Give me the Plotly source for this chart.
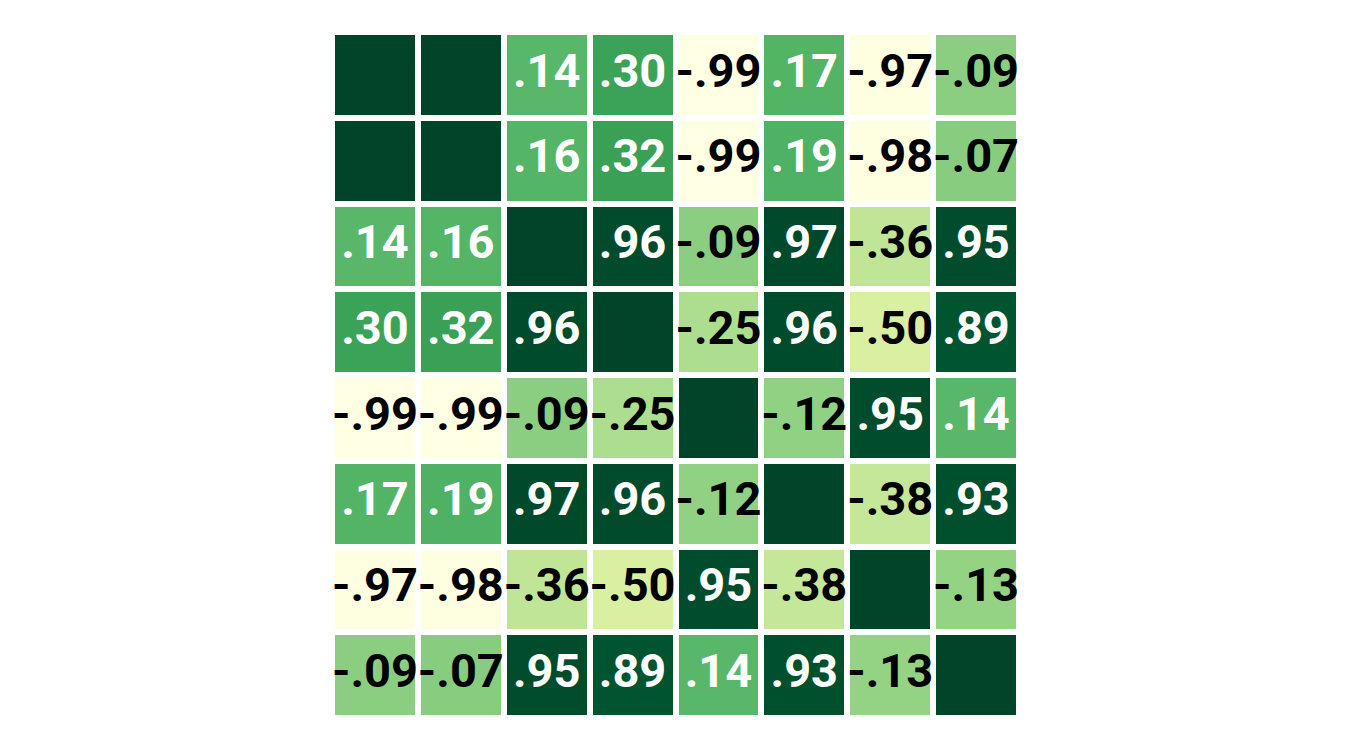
import plotly.graph_objects as go

names = ["v0", "v1", "v2", "v3", "v4", "v5", "v6", "v7"]
corr = [
    [1.00, 0.999, 0.14, 0.30, -0.99, 0.17, -0.97, -0.09],
    [0.999, 1.00, 0.16, 0.32, -0.99, 0.19, -0.98, -0.07],
    [0.14, 0.16, 1.00, 0.96, -0.09, 0.97, -0.36, 0.95],
    [0.30, 0.32, 0.96, 1.00, -0.25, 0.96, -0.50, 0.89],
    [-0.99, -0.99, -0.09, -0.25, 1.00, -0.12, 0.95, 0.14],
    [0.17, 0.19, 0.97, 0.96, -0.12, 1.00, -0.38, 0.93],
    [-0.97, -0.98, -0.36, -0.50, 0.95, -0.38, 1.00, -0.13],
    [-0.09, -0.07, 0.95, 0.89, 0.14, 0.93, -0.13, 1.00],
]


def fmt(v):
    if abs(v) >= 0.995:
        return ""
    s = f"{v:.2f}"
    return s.replace("0.", ".", 1)


n = len(names)
idx = list(range(n))

fig = go.Figure()
fig.add_trace(go.Heatmap(
    z=corr, x=idx, y=idx, colorscale="YlGn", zmin=-1, zmax=1,
    xgap=6, ygap=6, showscale=False, hoverinfo="skip",
))

tx, ty, tt, tc = [], [], [], []
for i in range(n):
    for j in range(n):
        tx.append(j)
        ty.append(i)
        tt.append(fmt(corr[i][j]))
        tc.append("white" if corr[i][j] > 0 else "black")

fig.add_trace(go.Scatter(
    x=tx, y=ty, text=tt, mode="text",
    textfont=dict(family="Roboto", size=47, color=tc, weight=700),
    textposition="middle center", hoverinfo="skip", showlegend=False,
))

fig.update_xaxes(visible=False, range=[-0.5, n - 0.5])
fig.update_yaxes(visible=False, range=[n - 0.5, -0.5])
fig.update_layout(
    margin=dict(l=324, r=323, t=24, b=24),
    plot_bgcolor="white", paper_bgcolor="white",
    showlegend=False,
)
fig.write_html("out.html")
